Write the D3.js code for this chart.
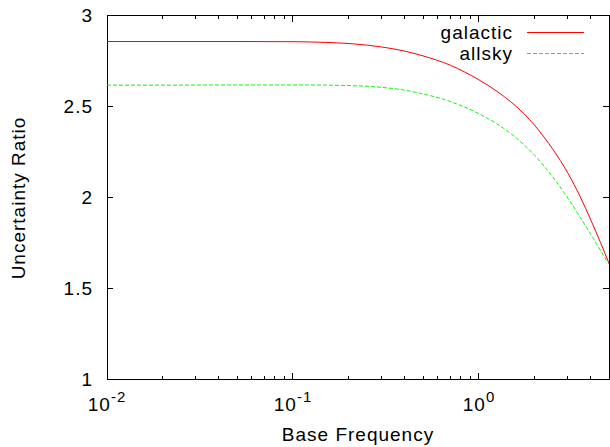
<!DOCTYPE html>
<html><head><meta charset="utf-8">
<script src="https://cdn.jsdelivr.net/npm/d3@7"></script>
<style>
body{margin:0;background:#fff;}
text{font-family:"Liberation Sans",Arial,Helvetica,sans-serif;fill:#000;}
</style></head>
<body><svg id="c" width="610" height="447"></svg>
<script>
const freq     = [0.01, 0.02, 0.05, 0.1,  0.15, 0.2,  0.3,  0.4,  0.5,  0.7,  1,    1.25, 1.5,  1.75, 2,    2.5,  3,    3.5,  4,    4.5,  5];
const galactic = [2.857,2.857,2.857,2.856,2.852,2.846,2.827,2.804,2.778,2.727,2.646,2.583,2.521,2.459,2.394,2.263,2.135,2.004,1.874,1.752,1.638];
const allsky   = [2.617,2.617,2.618,2.618,2.617,2.615,2.605,2.589,2.569,2.527,2.460,2.404,2.347,2.288,2.229,2.110,1.997,1.891,1.795,1.709,1.633];
const seriesNames = ["galactic","allsky"];
const yTicks = [1,1.5,2,2.5,3];
const xMajor = [0.01,0.1,1];
const xMajorExp = ["-2","-1","0"];

const svg = d3.select("#c");
const L=107,R=609,T=15.5,B=379.3;
const x = d3.scaleLog().domain([0.01,5]).range([L,R]);
const y = d3.scaleLinear().domain([1,3]).range([B,T]);
const fs = 19, ls = "1px";

// ticks (mirrored, inward)
const minor = [];
[0.01,0.1,1].forEach(d=>{for(let k=2;k<=9;k++){const v=d*k; if(v<=5) minor.push(v);}});
const g = svg.append("g").attr("stroke","#000").attr("stroke-width",1).attr("shape-rendering","crispEdges");
minor.forEach(v=>{
  g.append("line").attr("x1",x(v)).attr("x2",x(v)).attr("y1",B).attr("y2",B-3);
  g.append("line").attr("x1",x(v)).attr("x2",x(v)).attr("y1",T).attr("y2",T+3);
});
xMajor.forEach(v=>{
  g.append("line").attr("x1",x(v)).attr("x2",x(v)).attr("y1",B).attr("y2",B-6);
  g.append("line").attr("x1",x(v)).attr("x2",x(v)).attr("y1",T).attr("y2",T+6);
});
yTicks.forEach(v=>{
  g.append("line").attr("x1",L).attr("x2",L+6).attr("y1",y(v)).attr("y2",y(v));
  g.append("line").attr("x1",R).attr("x2",R-6).attr("y1",y(v)).attr("y2",y(v));
});
g.append("rect").attr("x",L).attr("y",T).attr("width",R-L).attr("height",B-T).attr("fill","none");

// y tick labels
yTicks.forEach(v=>{
  svg.append("text").attr("x",93).attr("y",y(v)).attr("dy","0.36em").attr("text-anchor","end")
    .attr("font-size",fs).style("letter-spacing",ls).text(d3.format("")(v));
});
// x tick labels
xMajor.forEach((v,i)=>{
  const t = svg.append("text").attr("x",x(v)).attr("y",410.5).attr("text-anchor","middle").attr("font-size",fs).style("letter-spacing",ls);
  t.append("tspan").text("10");
  t.append("tspan").attr("dy",-9).attr("font-size",15).text(xMajorExp[i]);
});
// axis titles
svg.append("text").attr("x",358).attr("y",441).attr("text-anchor","middle").attr("font-size",fs).style("letter-spacing",ls).text("Base Frequency");
svg.append("text").attr("transform","translate(25,198) rotate(-90)").attr("text-anchor","middle").attr("font-size",fs).style("letter-spacing",ls).text("Uncertainty Ratio");

// lines
const line = d3.line().x(d=>x(d[0])).y(d=>y(d[1])).curve(d3.curveMonotoneX);
svg.append("clipPath").attr("id","cp").append("rect").attr("x",L).attr("y",T).attr("width",R-L).attr("height",B-T);
const styles = [{c:"#ff0000",dash:null},{c:"#00ff00",dash:"4,2"}];
[galactic,allsky].forEach((s,i)=>{
  svg.append("path").datum(freq.map((f,j)=>[f,s[j]])).attr("d",line).attr("fill","none")
    .attr("stroke",styles[i].c).attr("stroke-width",1).attr("stroke-dasharray",styles[i].dash).attr("clip-path","url(#cp)");
});
// legend
seriesNames.forEach((n,i)=>{
  const yy = 32.5 + i*21;
  svg.append("text").attr("x",513).attr("y",yy).attr("dy","0.36em").attr("text-anchor","end").attr("font-size",fs).style("letter-spacing",ls).text(n);
  svg.append("line").attr("x1",527).attr("x2",584).attr("y1",yy).attr("y2",yy).attr("stroke",styles[i].c).attr("stroke-dasharray",styles[i].dash);
});
</script></body></html>
